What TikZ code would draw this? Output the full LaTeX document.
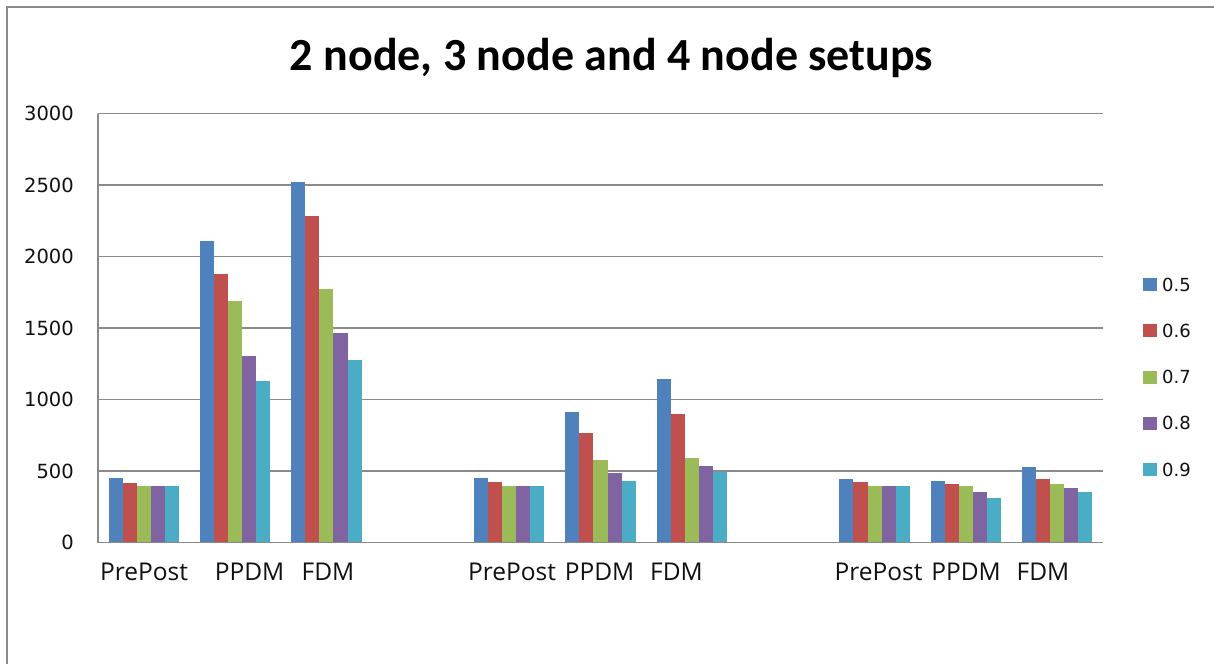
\documentclass[tikz,border=0pt]{standalone}
\usepackage{fontspec}
\setmainfont{Carlito}
\newfontfamily\numfont{DejaVu Sans}
\newfontfamily\catfont{Open Sans}
\definecolor{ser0}{HTML}{4F81BD}
\definecolor{ser1}{HTML}{C0504D}
\definecolor{ser2}{HTML}{9BBB59}
\definecolor{ser3}{HTML}{8064A2}
\definecolor{ser4}{HTML}{4BACC6}
\definecolor{gridgray}{HTML}{8A8A8A}
\definecolor{framegray}{HTML}{8A8A8A}
\definecolor{txt}{HTML}{111111}
% one cluster of five bars in category #1 (0..10), heights #2
\newcommand\barset[2]{%
  \foreach \v [count=\i from 0] in {#2} {%
    \pgfmathsetmacro\xl{98+#1*91.36+10.545+\i*14.06}
    \fill[ser\i] (\xl,542.5) rectangle ++(14.06,{-0.143*\v});
  }%
}
\begin{document}
\begin{tikzpicture}[x=1pt,y=-1pt,
  gridline/.style={gridgray,line width=1.7pt},
  ylab/.style={anchor=east,inner sep=0pt,text=txt,font=\numfont\fontsize{19.5}{22}\selectfont},
  catlab/.style={anchor=base,inner sep=0pt,text=txt,font=\catfont\fontsize{24.5}{28}\selectfont},
  leglab/.style={anchor=west,inner sep=0pt,text=txt,font=\numfont\fontsize{18}{21}\selectfont}]
\useasboundingbox[fill=white] (0,0) rectangle (1214,664);
% chart frame (left and top edges)
\draw[framegray,line width=2pt] (7,664) -- (7,7) -- (1214,7);
% title
\node[anchor=base,inner sep=0pt,font=\bfseries\fontsize{46}{50}\selectfont] (title) at (611.5,70) {2 node, 3 node and 4 node setups};
% horizontal gridlines and value labels
\foreach \t [count=\k from 0] in {0,500,1000,1500,2000,2500,3000} {
  \draw[gridline] (98,{542.5-0.143*\t}) -- (1103,{542.5-0.143*\t});
  \node[ylab] (y\k) at (74,{542.5-0.143*\t}) {\t};
}
% bars
\barset{0}{448,418,392,392,392}
\barset{1}{2105,1881,1692,1305,1130}
\barset{2}{2524,2281,1772,1464,1277}
\barset{4}{448,420,392,392,392}
\barset{5}{913,768,579,488,432}
\barset{6}{1140,901,593,537,495}
\barset{8}{445,420,392,392,392}
\barset{9}{431,406,392,354,312}
\barset{10}{525,445,406,378,354}
% axes
\draw[gridline] (98,113.5) -- (98,542.5) -- (1103,542.5);
% category labels
\node[catlab] (c1) at (144,580) {PrePost};
\node[catlab] (c2) at (249.5,580) {PPDM};
\node[catlab] (c3) at (328,580) {FDM};
\node[catlab] (c4) at (512,580) {PrePost};
\node[catlab] (c5) at (599.5,580) {PPDM};
\node[catlab] (c6) at (676.5,580) {FDM};
\node[catlab] (c7) at (878.5,580) {PrePost};
\node[catlab] (c8) at (966,580) {PPDM};
\node[catlab] (c9) at (1043,580) {FDM};
% legend
\foreach \d [count=\i from 0] in {5,6,7,8,9} {
  \fill[ser\i] (1143,{278+46.3*\i}) rectangle ++(14,13);
  \node[leglab] (leg\i) at (1162,{284.5+46.3*\i}) {0.\d};
}
\end{tikzpicture}
\end{document}
